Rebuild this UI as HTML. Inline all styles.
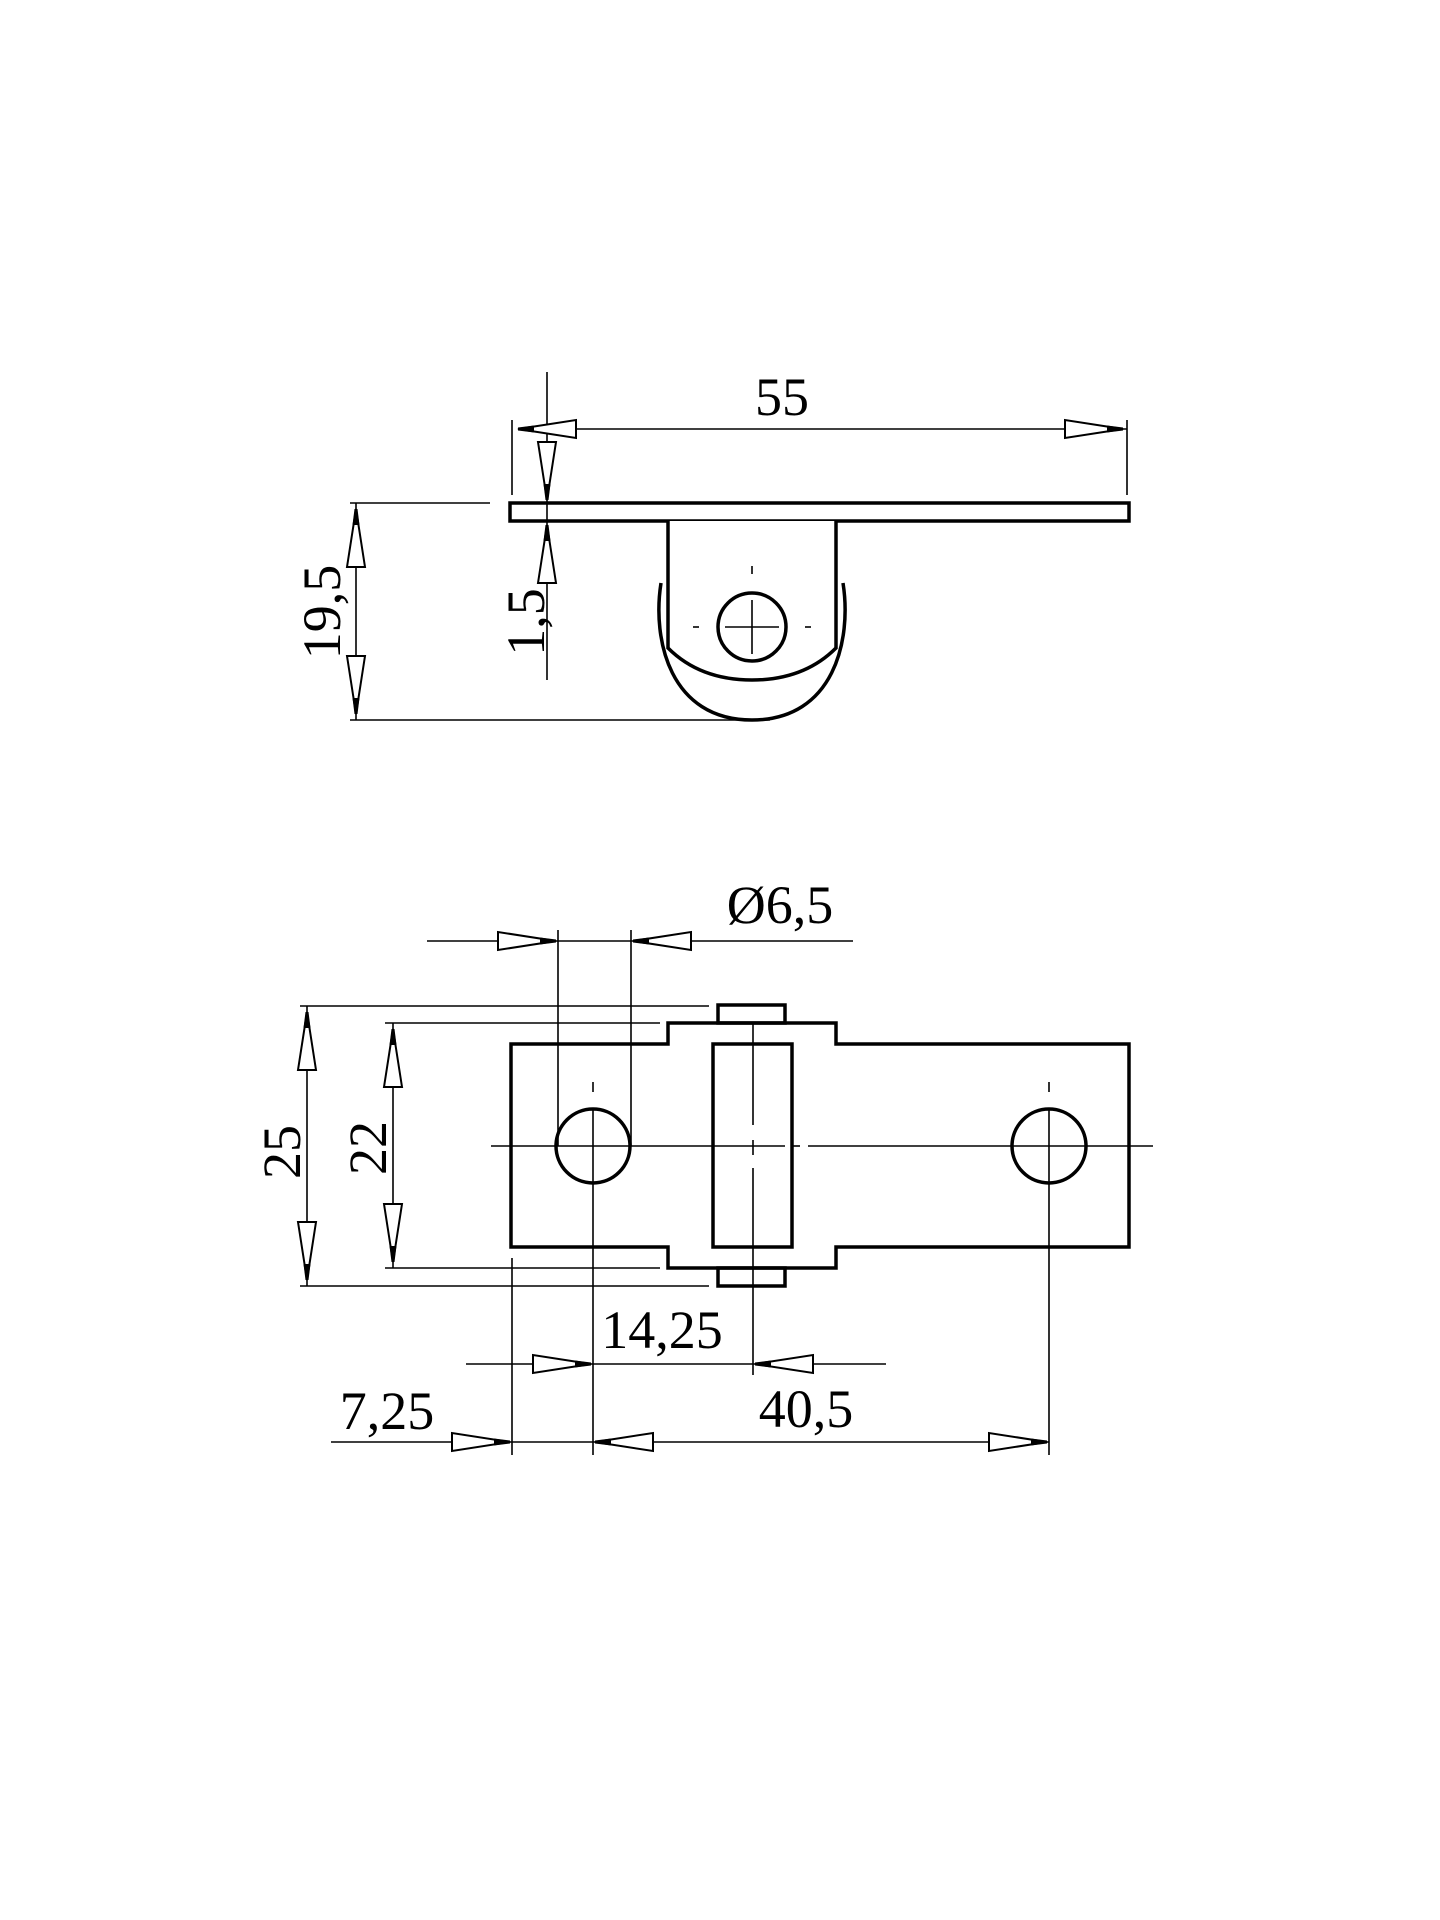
<!DOCTYPE html>
<html><head><meta charset="utf-8"><style>html,body{margin:0;padding:0;background:#fff}svg{display:block}</style></head>
<body>
<svg width="1440" height="1920" viewBox="0 0 1440 1920" xmlns="http://www.w3.org/2000/svg">
<defs>
<g id="ar"><polygon points="0,0 -58,-9 -58,9" fill="#fff" stroke="#000" stroke-width="2"/><polygon points="0,-1.5 -16,-3.5 -16,3.5 0,1.5" fill="#000"/></g>
</defs>
<g fill="none" stroke="#000" stroke-width="1.6">
<line x1="512" y1="420" x2="512" y2="495"/>
<line x1="1127" y1="420" x2="1127" y2="495"/>
<line x1="518" y1="429" x2="1127" y2="429"/>
<line x1="547" y1="372" x2="547" y2="680"/>
<line x1="350" y1="503" x2="490" y2="503"/>
<line x1="350" y1="720" x2="770" y2="720"/>
<line x1="356" y1="503" x2="356" y2="720"/>
</g>
<g fill="none" stroke="#000" stroke-width="3.5">
<rect x="510" y="503" width="619" height="18"/>
<path d="M668,521 V648 Q700,680 752,680 Q804,680 836,648 V521" fill="#fff"/>
<path d="M661,583 C652,640 670,720 752,720 C834,720 852,640 843,583"/>
<circle cx="752" cy="627" r="34"/>
</g>
<g stroke="#000" stroke-width="1.6">
<line x1="752" y1="600" x2="752" y2="654"/><line x1="725" y1="627" x2="779" y2="627"/>
<line x1="752" y1="566" x2="752" y2="574"/><line x1="693" y1="627" x2="699" y2="627"/><line x1="805" y1="627" x2="811" y2="627"/>
</g>
<use href="#ar" transform="translate(518,429) rotate(180)"/>
<use href="#ar" transform="translate(1123,429)"/>
<use href="#ar" transform="translate(547,500) rotate(90)"/>
<use href="#ar" transform="translate(547,525) rotate(-90)"/>
<use href="#ar" transform="translate(356,509) rotate(-90)"/>
<use href="#ar" transform="translate(356,714) rotate(90)"/>
<g font-family="Liberation Serif, serif" font-size="54" fill="#000">
<text x="782" y="415" text-anchor="middle">55</text>
<text transform="translate(340,612) rotate(-90)" text-anchor="middle">19,5</text>
<text transform="translate(544,622) rotate(-90)" text-anchor="middle">1,5</text>
<text x="780" y="923" text-anchor="middle">Ø6,5</text>
<text transform="translate(300,1152) rotate(-90)" text-anchor="middle">25</text>
<text transform="translate(386,1148) rotate(-90)" text-anchor="middle">22</text>
<text x="662" y="1348" text-anchor="middle">14,25</text>
<text x="387" y="1429" text-anchor="middle">7,25</text>
<text x="806" y="1427" text-anchor="middle">40,5</text>
</g>
<g fill="none" stroke="#000" stroke-width="1.6">
<line x1="427" y1="941" x2="853" y2="941"/>
<line x1="558" y1="930" x2="558" y2="1146"/>
<line x1="631" y1="930" x2="631" y2="1146"/>
<line x1="300" y1="1006" x2="709" y2="1006"/>
<line x1="300" y1="1286" x2="709" y2="1286"/>
<line x1="385" y1="1023" x2="660" y2="1023"/>
<line x1="385" y1="1268" x2="660" y2="1268"/>
<line x1="307" y1="1006" x2="307" y2="1286"/>
<line x1="393" y1="1023" x2="393" y2="1268"/>
<line x1="512" y1="1258" x2="512" y2="1455"/>
<line x1="593" y1="1110" x2="593" y2="1455"/>
<line x1="1049" y1="1110" x2="1049" y2="1455"/>
<line x1="753" y1="1024" x2="753" y2="1125"/>
<line x1="753" y1="1140" x2="753" y2="1155"/>
<line x1="753" y1="1168" x2="753" y2="1375"/>
<line x1="491" y1="1146" x2="785" y2="1146"/>
<line x1="792" y1="1146" x2="800" y2="1146"/>
<line x1="808" y1="1146" x2="1153" y2="1146"/>
<line x1="466" y1="1364" x2="886" y2="1364"/>
<line x1="331" y1="1442" x2="1049" y2="1442"/>
<line x1="593" y1="1082" x2="593" y2="1092"/>
<line x1="1049" y1="1082" x2="1049" y2="1092"/>
</g>
<g fill="none" stroke="#000" stroke-width="3.5">
<path d="M511,1044 H668 V1023 H836 V1044 H1129 V1247 H836 V1268 H668 V1247 H511 Z"/>
<rect x="718" y="1005" width="67" height="18"/>
<rect x="718" y="1268" width="67" height="18"/>
<rect x="713" y="1044" width="79" height="203"/>
<circle cx="593" cy="1146" r="37"/>
<circle cx="1049" cy="1146" r="37"/>
</g>
<use href="#ar" transform="translate(556,941)"/>
<use href="#ar" transform="translate(633,941) rotate(180)"/>
<use href="#ar" transform="translate(307,1012) rotate(-90)"/>
<use href="#ar" transform="translate(307,1280) rotate(90)"/>
<use href="#ar" transform="translate(393,1029) rotate(-90)"/>
<use href="#ar" transform="translate(393,1262) rotate(90)"/>
<use href="#ar" transform="translate(591,1364)"/>
<use href="#ar" transform="translate(755,1364) rotate(180)"/>
<use href="#ar" transform="translate(510,1442)"/>
<use href="#ar" transform="translate(595,1442) rotate(180)"/>
<use href="#ar" transform="translate(1047,1442)"/>
</svg>
</body></html>
